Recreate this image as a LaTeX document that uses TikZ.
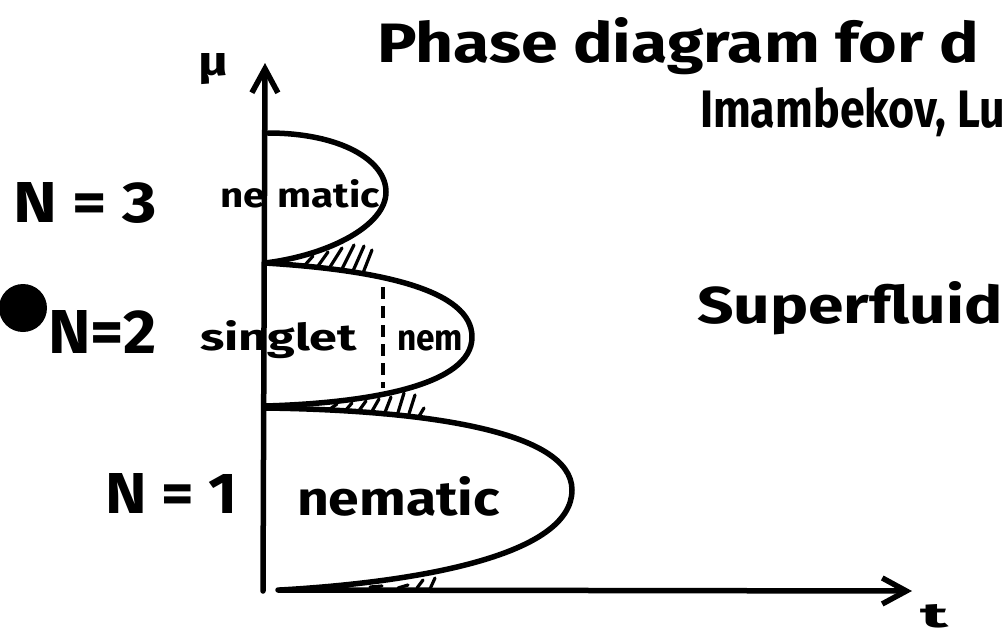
\documentclass[tikz,border=0pt]{standalone}
\usepackage{fontspec}
\setmainfont{Fira Sans}
\usepackage{graphicx}
\usetikzlibrary{arrows.meta}
\newcommand{\fitbox}[3]{\resizebox{#1pt}{#2pt}{\bfseries #3}}
\tikzset{
  ink/.style={line width=5.5pt, line cap=round, line join=round},
  axisline/.style={ink, -{Straight Barb[length=24pt,width=26pt]}},
  hatch/.style={line width=3.2pt, line cap=round},
  dashline/.style={line width=4pt, dash pattern=on 12pt off 7pt},
  lbl/.style={anchor=base west, inner sep=0pt, outer sep=0pt},
}
\begin{document}
\begin{tikzpicture}[x=1pt,y=-1pt]
\useasboundingbox (0,0) rectangle (1007,638);
% axes
\coordinate (O) at (263,591);
\coordinate (ytip) at (265,63);
\coordinate (x0) at (278,590);
\coordinate (xtip) at (912,591);
\draw[axisline] (O) -- (ytip);
\draw[axisline] (x0) -- (xtip);
% lobes
\draw[ink] (268,133) .. controls (340,133) and (386,160) .. (386,192)
  .. controls (386,225) and (330,255) .. (265,263);
\draw[ink] (265,263) .. controls (380,270) and (472,290) .. (472,337)
  .. controls (472,385) and (370,403) .. (265,406);
\draw[ink] (265,408) .. controls (420,410) and (572,430) .. (572,490)
  .. controls (572,555) and (420,582) .. (280,590);
% hatching
\foreach \a/\b/\c/\d in {305/265/313/256, 318/266/328/252, 330/267/342/248, 342/269/354/245, 353/271/364/246, 363/273/372/250}
  \draw[hatch] (\a,\b) -- (\c,\d);
\foreach \a/\b/\c/\d in {330/409/337/404, 345/411/352/403, 358/412/366/401, 371/413/379/399, 384/415/391/397, 397/416/404/393, 408/417/415/395, 418/418/424/408}
  \draw[hatch] (\a,\b) -- (\c,\d);
\foreach \a/\b/\c/\d in {345/587/352/585, 370/587/382/586, 398/588/408/585, 417/588/423/580, 430/589/435/578}
  \draw[hatch] (\a,\b) -- (\c,\d);
% dashed divider
\coordinate (dtop) at (383,287);
\coordinate (dbot) at (383,388);
\draw[dashline] (dtop) -- (dbot);
% dot
\fill (23,308) circle (24);
% labels
\node[lbl] (title) at (377,62) {\fitbox{602}{45}{Phase diagram for d}};
\node[lbl] (sub) at (700,127) {\fitbox{305}{40}{Imambekov, Lu}};
\node[lbl] (mu) at (198,75) {\fitbox{30}{22}{μ}};
\node[lbl] (tl) at (920,627) {\fitbox{28}{23}{t}};
\node[lbl] (n3) at (13,222) {\fitbox{144}{40}{N = 3}};
\node[lbl] (n2) at (48,353) {\fitbox{109}{43}{N=2}};
\node[lbl] (n1) at (105,513) {\fitbox{133}{40}{N = 1}};
\node[lbl] (nemA) at (220,207) {\fitbox{160}{28}{ne\kern0.3em matic}};
\node[lbl] (sing) at (200,350) {\fitbox{157}{30}{singlet}};
\node[lbl] (nemB) at (397,350) {\fitbox{66}{20}{nem}};
\node[lbl] (nemC) at (297,515) {\fitbox{203}{39}{nematic}};
\node[lbl] (sf) at (697,323) {\fitbox{306}{42}{Superfluid}};
\end{tikzpicture}
\end{document}
